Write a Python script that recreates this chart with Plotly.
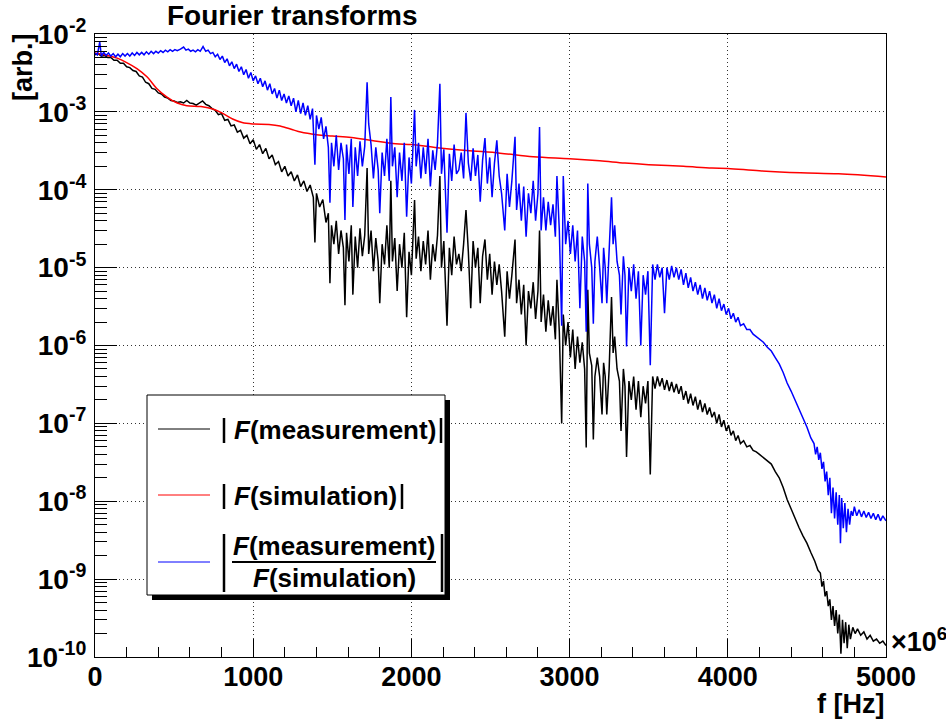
import plotly.graph_objects as go

# ---------------- data ----------------
# |F(measurement)|  (black)
meas_freq = [
    0, 20, 40, 60, 80, 100, 120, 140, 160, 180,
    200, 220, 240, 260, 280, 300, 320, 340, 360, 380,
    400, 420, 440, 460, 480, 500, 520, 540, 560, 580,
    600, 620, 640, 660, 680, 700, 720, 740, 760, 780,
    800, 820, 840, 860, 880, 900, 920, 940, 960, 980,
    1000, 1020, 1040, 1060, 1080, 1100, 1120, 1140, 1160, 1180,
    1200, 1220, 1240, 1260, 1280, 1300, 1320, 1340, 1360, 1380,
    1390, 1400, 1420, 1440, 1460, 1475, 1485, 1495, 1510, 1525,
    1540, 1555, 1570, 1580, 1590, 1605, 1620, 1630, 1645, 1660,
    1675, 1690, 1705, 1720, 1730, 1745, 1760, 1775, 1790, 1800,
    1815, 1830, 1845, 1860, 1870, 1880, 1895, 1910, 1925, 1940,
    1955, 1970, 1985, 2000, 2020, 2030, 2045, 2060, 2075, 2090,
    2105, 2120, 2135, 2150, 2165, 2180, 2190, 2205, 2225, 2240,
    2255, 2270, 2285, 2300, 2315, 2330, 2345, 2360, 2375, 2390,
    2405, 2420, 2435, 2450, 2465, 2480, 2495, 2510, 2525, 2540,
    2555, 2570, 2590, 2605, 2620, 2635, 2655, 2665, 2680, 2695,
    2710, 2725, 2740, 2755, 2770, 2785, 2800, 2810, 2820, 2835,
    2850, 2865, 2880, 2895, 2910, 2920, 2935, 2950, 2960, 2975,
    2990, 3005, 3020, 3035, 3050, 3065, 3080, 3095, 3105, 3115,
    3125, 3140, 3150, 3160, 3175, 3190, 3205, 3215, 3225, 3235,
    3250, 3265, 3275, 3285, 3300, 3315, 3325, 3340, 3350, 3360,
    3375, 3390, 3405, 3420, 3435, 3450, 3465, 3480, 3495, 3510,
    3525, 3540, 3555, 3570, 3585, 3600, 3615, 3630, 3645, 3660,
    3675, 3690, 3705, 3720, 3735, 3750, 3765, 3780, 3795, 3810,
    3825, 3840, 3855, 3870, 3885, 3900, 3915, 3930, 3945, 3960,
    3975, 3990, 4005, 4020, 4035, 4050, 4065, 4080, 4100, 4120,
    4140, 4160, 4180, 4200, 4225, 4250, 4275, 4300, 4325, 4350,
    4375, 4400, 4425, 4450, 4475, 4500, 4525, 4550, 4570, 4585,
    4595, 4605, 4615, 4625, 4635, 4645, 4655, 4665, 4675, 4685,
    4695, 4705, 4715, 4725, 4735, 4745, 4755, 4765, 4775, 4790,
    4805, 4820, 4840, 4860, 4880, 4900, 4920, 4940, 4960, 4980, 5000,
]
meas_amp = [
    5.4e-3, 5.6e-3, 5.2e-3, 5.3e-3, 5.0e-3, 5.0e-3, 4.6e-3, 4.6e-3, 4.2e-3, 4.2e-3,
    3.8e-3, 3.7e-3, 3.4e-3, 3.3e-3, 2.9e-3, 2.8e-3, 2.4e-3, 2.3e-3, 2.0e-3, 1.95e-3,
    1.75e-3, 1.7e-3, 1.55e-3, 1.5e-3, 1.4e-3, 1.38e-3, 1.32e-3, 1.35e-3, 1.3e-3, 1.4e-3,
    1.3e-3, 1.28e-3, 1.22e-3, 1.3e-3, 1.38e-3, 1.25e-3, 1.2e-3, 1.1e-3, 1.05e-3, 9.2e-4,
    9.5e-4, 7.8e-4, 8.0e-4, 6.6e-4, 6.8e-4, 5.5e-4, 5.8e-4, 4.6e-4, 5.0e-4, 3.9e-4,
    4.4e-4, 3.3e-4, 3.8e-4, 2.9e-4, 3.4e-4, 2.5e-4, 2.8e-4, 2.1e-4, 2.3e-4, 1.7e-4,
    2.0e-4, 1.5e-4, 1.7e-4, 1.3e-4, 1.55e-4, 1.1e-4, 1.3e-4, 9.5e-5, 1.15e-4, 8.0e-5,
    2.1e-5, 9.0e-5, 6.0e-5, 7.5e-5, 3.8e-5, 5.0e-5, 6.3e-6, 3.5e-5, 2.0e-5, 4.0e-5,
    1.5e-5, 3.0e-5, 1.8e-5, 3.3e-6, 2.8e-5, 1.2e-5, 3.5e-5, 4.5e-6, 2.5e-5, 1.0e-5,
    3.2e-5, 1.4e-5, 2.6e-5, 1.9e-4, 1.5e-5, 3.0e-5, 9.0e-6, 2.4e-5, 1.2e-5, 3.5e-6,
    2.0e-5, 1.1e-5, 3.5e-5, 1.0e-5, 1.3e-4, 1.2e-5, 2.4e-5, 5.0e-6, 2.0e-5, 1.0e-5,
    2.8e-5, 2.3e-6, 1.6e-5, 8.0e-6, 7.4e-5, 1.3e-5, 2.5e-5, 9.0e-6, 2.2e-5, 1.1e-5,
    3.0e-5, 7.0e-6, 2.0e-5, 1.2e-5, 2.6e-5, 1.5e-4, 1.0e-5, 2.2e-5, 1.8e-6, 1.8e-5,
    8.0e-6, 2.5e-5, 1.1e-5, 1.5e-5, 9.0e-6, 2.0e-5, 5.5e-5, 1.6e-5, 3.0e-6, 2.2e-5,
    1.0e-5, 1.8e-5, 3.5e-6, 1.4e-5, 2.3e-5, 7.0e-6, 1.5e-5, 4.5e-6, 1.2e-5, 6.0e-6,
    1.1e-5, 5.0e-6, 1.3e-6, 9.0e-6, 4.0e-6, 8.0e-6, 2.3e-5, 3.5e-6, 7.0e-6, 2.5e-6,
    6.0e-6, 1.0e-6, 5.0e-6, 3.0e-6, 6.5e-6, 2.2e-6, 5.0e-6, 3.0e-5, 2.0e-6, 4.5e-6,
    1.5e-6, 3.8e-6, 1.8e-6, 3.2e-6, 1.2e-6, 7.0e-6, 1.5e-6, 1.0e-7, 2.5e-6, 1.0e-6,
    2.0e-6, 7.0e-7, 1.6e-6, 5.0e-7, 1.3e-6, 6.0e-7, 1.1e-6, 5.0e-7, 4.9e-8, 5.2e-6,
    8.0e-7, 5.5e-7, 6.2e-8, 4.0e-7, 7.0e-7, 4.0e-7, 1.3e-7, 6.0e-7, 4.0e-7, 1.3e-7,
    5.0e-7, 4.2e-6, 8.0e-7, 1.3e-6, 5.0e-7, 3.5e-7, 8.0e-8, 5.0e-7, 3.0e-7, 3.7e-8,
    3.5e-7, 2.0e-7, 4.0e-7, 1.5e-7, 3.5e-7, 1.2e-7, 3.0e-7, 1.8e-7, 3.5e-7, 2.2e-8,
    4.0e-7, 2.8e-7, 4.0e-7, 3.0e-7, 3.8e-7, 2.7e-7, 3.6e-7, 2.6e-7, 3.4e-7, 2.5e-7,
    3.2e-7, 2.4e-7, 3.0e-7, 2.0e-7, 2.6e-7, 1.8e-7, 2.4e-7, 1.7e-7, 2.2e-7, 1.5e-7,
    2.0e-7, 1.4e-7, 1.8e-7, 1.3e-7, 1.6e-7, 1.2e-7, 1.4e-7, 1.0e-7, 1.3e-7, 9.0e-8,
    1.1e-7, 8.0e-8, 9.5e-8, 7.0e-8, 8.0e-8, 6.0e-8, 7.0e-8, 5.5e-8, 6.0e-8, 5.0e-8,
    5.2e-8, 4.5e-8, 4.3e-8, 4.0e-8, 3.6e-8, 3.3e-8, 3.0e-8, 2.4e-8, 2.0e-8, 1.5e-8,
    1.05e-8, 8.0e-9, 6.0e-9, 4.6e-9, 3.6e-9, 2.9e-9, 2.2e-9, 1.7e-9, 1.3e-9, 1.2e-9,
    8.0e-10, 9.5e-10, 6.0e-10, 7.0e-10, 4.5e-10, 5.5e-10, 3.0e-10, 4.5e-10, 2.5e-10, 4.0e-10,
    2.0e-10, 3.5e-10, 1.1e-10, 3.0e-10, 1.5e-10, 2.8e-10, 1.3e-10, 2.6e-10, 1.7e-10, 2.4e-10,
    2.0e-10, 2.3e-10, 1.9e-10, 2.1e-10, 1.7e-10, 1.9e-10, 1.6e-10, 1.7e-10, 1.5e-10, 1.6e-10, 1.4e-10,
]

# |F(simulation)|  (red)
sim_freq = [
    0, 80, 140, 200, 265, 330, 390, 455, 520, 580,
    670, 750, 810, 870, 930, 1000, 1100, 1170, 1250, 1300,
    1400, 1500, 1620, 1750, 1900, 2000, 2150, 2350, 2560, 2770,
    3000, 3190, 3350, 3500, 3720, 3900, 4000, 4200, 4460, 4700, 5000,
]
sim_amp = [
    5.7e-3, 5.3e-3, 4.9e-3, 4.3e-3, 3.6e-3, 2.8e-3, 2.0e-3, 1.55e-3, 1.3e-3, 1.2e-3,
    1.17e-3, 1.08e-3, 9.5e-4, 8.1e-4, 7.3e-4, 7.0e-4, 6.9e-4, 6.6e-4, 5.9e-4, 5.5e-4,
    5.1e-4, 4.9e-4, 4.7e-4, 4.3e-4, 3.9e-4, 3.8e-4, 3.5e-4, 3.2e-4, 2.95e-4, 2.65e-4,
    2.5e-4, 2.35e-4, 2.2e-4, 2.1e-4, 2.0e-4, 1.9e-4, 1.88e-4, 1.75e-4, 1.65e-4, 1.6e-4, 1.46e-4,
]

# |F(measurement)/F(simulation)|  (blue)
ratio_freq = [
    0, 15, 30, 40, 55, 70, 85, 100, 115, 130,
    145, 160, 175, 190, 205, 220, 235, 250, 265, 280,
    295, 310, 325, 340, 355, 370, 385, 400, 415, 430,
    445, 460, 475, 490, 505, 520, 540, 560, 575, 590,
    605, 620, 635, 650, 665, 683, 700, 715, 730, 745,
    760, 775, 790, 805, 820, 835, 850, 865, 880, 895,
    910, 925, 940, 955, 970, 985, 1000, 1015, 1030, 1045,
    1060, 1075, 1090, 1105, 1120, 1135, 1150, 1165, 1180, 1195,
    1210, 1225, 1240, 1255, 1270, 1285, 1300, 1315, 1330, 1345,
    1360, 1375, 1390, 1400, 1415, 1430, 1445, 1460, 1475, 1485,
    1495, 1510, 1525, 1540, 1555, 1570, 1580, 1590, 1605, 1620,
    1630, 1645, 1660, 1675, 1690, 1705, 1720, 1730, 1745, 1760,
    1775, 1790, 1800, 1815, 1830, 1845, 1860, 1870, 1880, 1895,
    1910, 1925, 1940, 1955, 1970, 1985, 2000, 2020, 2030, 2045,
    2060, 2075, 2090, 2105, 2120, 2135, 2150, 2165, 2180, 2190,
    2205, 2225, 2240, 2255, 2270, 2285, 2300, 2315, 2330, 2345,
    2360, 2375, 2390, 2405, 2420, 2435, 2450, 2465, 2480, 2495,
    2510, 2525, 2540, 2555, 2570, 2590, 2605, 2620, 2635, 2655,
    2665, 2680, 2695, 2710, 2725, 2740, 2755, 2770, 2785, 2800,
    2810, 2820, 2835, 2850, 2865, 2880, 2895, 2910, 2920, 2935,
    2950, 2960, 2975, 2990, 3005, 3020, 3035, 3050, 3065, 3080,
    3095, 3105, 3115, 3125, 3140, 3150, 3160, 3175, 3190, 3205,
    3215, 3225, 3235, 3250, 3265, 3275, 3285, 3300, 3315, 3325,
    3340, 3350, 3360, 3375, 3390, 3405, 3420, 3435, 3450, 3465,
    3480, 3495, 3510, 3525, 3540, 3555, 3570, 3585, 3600, 3615,
    3630, 3645, 3660, 3675, 3690, 3705, 3720, 3735, 3750, 3765,
    3780, 3795, 3810, 3825, 3840, 3855, 3870, 3885, 3900, 3915,
    3930, 3945, 3960, 3975, 3990, 4005, 4020, 4035, 4050, 4065,
    4080, 4100, 4120, 4140, 4160, 4180, 4200, 4225, 4250, 4275,
    4300, 4325, 4350, 4375, 4400, 4425, 4450, 4475, 4500, 4525,
    4545, 4555, 4565, 4575, 4585, 4595, 4605, 4615, 4625, 4635,
    4645, 4655, 4665, 4675, 4685, 4695, 4705, 4712, 4720, 4730,
    4740, 4750, 4760, 4770, 4780, 4790, 4800, 4815, 4830, 4845,
    4860, 4875, 4890, 4905, 4920, 4935, 4950, 4965, 4980, 5000,
]
ratio_amp = [
    5.7e-3, 5.4e-3, 7.9e-3, 5.2e-3, 5.8e-3, 5.3e-3, 5.7e-3, 5.2e-3, 5.6e-3, 5.1e-3,
    5.5e-3, 5.1e-3, 5.6e-3, 5.2e-3, 5.6e-3, 5.2e-3, 5.7e-3, 5.3e-3, 5.8e-3, 5.4e-3,
    5.8e-3, 5.4e-3, 5.9e-3, 5.5e-3, 6.0e-3, 5.6e-3, 6.0e-3, 5.7e-3, 6.1e-3, 5.8e-3,
    6.2e-3, 5.9e-3, 6.3e-3, 6.0e-3, 6.3e-3, 6.1e-3, 6.4e-3, 6.8e-3, 6.2e-3, 6.4e-3,
    6.0e-3, 6.2e-3, 5.9e-3, 6.3e-3, 6.0e-3, 6.9e-3, 6.0e-3, 6.2e-3, 5.6e-3, 5.8e-3,
    5.1e-3, 5.5e-3, 4.7e-3, 5.2e-3, 4.3e-3, 4.8e-3, 3.9e-3, 4.4e-3, 3.6e-3, 4.1e-3,
    3.3e-3, 3.8e-3, 3.0e-3, 3.5e-3, 2.7e-3, 3.2e-3, 2.5e-3, 2.9e-3, 2.3e-3, 2.7e-3,
    2.1e-3, 2.5e-3, 1.9e-3, 2.3e-3, 1.7e-3, 2.0e-3, 1.5e-3, 1.9e-3, 1.4e-3, 1.7e-3,
    1.3e-3, 1.6e-3, 1.2e-3, 1.5e-3, 1.0e-3, 1.4e-3, 9.5e-4, 1.3e-3, 9.0e-4, 1.2e-3,
    8.0e-4, 1.1e-3, 2.1e-4, 9.0e-4, 6.0e-4, 8.5e-4, 4.5e-4, 6.5e-4, 3.5e-4, 6.8e-5,
    4.0e-4, 2.0e-4, 5.0e-4, 1.8e-4, 4.0e-4, 2.5e-4, 4.1e-5, 3.8e-4, 1.6e-4, 4.5e-4,
    6.0e-5, 3.5e-4, 1.5e-4, 4.2e-4, 2.0e-4, 3.6e-4, 2.4e-3, 7.0e-4, 3.8e-4, 1.4e-4,
    3.5e-4, 1.8e-4, 5.0e-5, 3.0e-4, 1.5e-4, 4.5e-4, 1.3e-4, 1.55e-3, 2.0e-4, 3.5e-4,
    8.0e-5, 3.0e-4, 1.3e-4, 4.0e-4, 4.5e-5, 2.6e-4, 1.2e-4, 1.06e-3, 2.0e-4, 4.0e-4,
    1.4e-4, 3.5e-4, 1.6e-4, 4.5e-4, 1.1e-4, 3.2e-4, 1.8e-4, 4.0e-4, 2.3e-3, 1.6e-4,
    3.3e-4, 2.8e-5, 2.9e-4, 1.3e-4, 3.8e-4, 1.6e-4, 1.8e-4, 3.0e-4, 1.4e-4, 9.7e-4,
    2.2e-4, 1.3e-4, 3.4e-4, 1.5e-4, 2.8e-4, 7.0e-5, 2.4e-4, 4.6e-4, 1.2e-4, 2.6e-4,
    8.0e-5, 2.2e-4, 4.3e-4, 1.5e-4, 9.0e-5, 3.0e-5, 1.6e-4, 6.0e-5, 1.3e-4, 4.8e-4,
    5.5e-5, 1.2e-4, 4.0e-5, 1.1e-4, 2.5e-5, 9.0e-5, 5.0e-5, 1.3e-4, 4.0e-5, 9.0e-5,
    6.4e-4, 3.0e-5, 8.0e-5, 3.0e-5, 7.0e-5, 3.5e-5, 6.5e-5, 2.5e-5, 1.5e-4, 3.0e-5,
    1.8e-6, 1.5e-4, 2.0e-5, 4.0e-5, 1.5e-5, 3.5e-5, 1.2e-5, 3.0e-5, 3.0e-6, 2.5e-5,
    1.2e-5, 1.5e-6, 1.2e-4, 2.0e-5, 1.0e-5, 1.9e-6, 1.2e-5, 2.5e-5, 1.0e-5, 3.5e-6,
    1.8e-5, 1.0e-5, 3.5e-6, 1.5e-5, 8.0e-5, 2.0e-5, 3.5e-5, 1.2e-5, 8.0e-6, 2.5e-6,
    1.4e-5, 8.0e-6, 9.7e-7, 1.0e-5, 5.0e-6, 1.1e-5, 4.0e-6, 9.0e-6, 1.0e-6, 8.0e-6,
    4.5e-6, 9.0e-6, 5.6e-7, 1.1e-5, 7.0e-6, 1.1e-5, 7.5e-6, 1.0e-5, 2.6e-6, 1.0e-5,
    7.0e-6, 1.05e-5, 7.5e-6, 1.0e-5, 7.0e-6, 9.5e-6, 6.0e-6, 8.5e-6, 5.5e-6, 7.5e-6,
    5.0e-6, 6.5e-6, 4.5e-6, 6.0e-6, 4.0e-6, 5.5e-6, 3.8e-6, 5.0e-6, 3.5e-6, 4.5e-6,
    3.0e-6, 4.0e-6, 2.8e-6, 3.4e-6, 2.5e-6, 3.0e-6, 2.2e-6, 2.6e-6, 2.0e-6, 2.3e-6,
    1.8e-6, 1.9e-6, 1.6e-6, 1.6e-6, 1.4e-6, 1.3e-6, 1.2e-6, 1.1e-6, 9.5e-7, 8.5e-7,
    7.0e-7, 5.8e-7, 4.5e-7, 3.3e-7, 2.6e-7, 2.0e-7, 1.5e-7, 1.15e-7, 9.0e-8, 6.5e-8,
    5.5e-8, 4.0e-8, 5.0e-8, 3.4e-8, 4.2e-8, 2.6e-8, 3.2e-8, 1.8e-8, 2.4e-8, 1.2e-8,
    2.0e-8, 7.0e-9, 1.5e-8, 6.0e-9, 1.3e-8, 5.0e-9, 1.2e-8, 2.9e-9, 1.1e-8, 4.5e-9,
    9.5e-9, 4.0e-9, 8.0e-9, 5.0e-9, 7.5e-9, 6.5e-9, 8.5e-9, 6.5e-9, 7.8e-9, 6.3e-9,
    7.5e-9, 6.2e-9, 7.2e-9, 6.0e-9, 7.0e-9, 5.8e-9, 6.8e-9, 5.6e-9, 6.5e-9, 5.6e-9,
]

# axis ticks / labels
x_tick_vals = [0, 1000, 2000, 3000, 4000, 5000]
x_tick_text = ["0", "1000", "2000", "3000", "4000", "5000"]
y_tick_vals = [1e-10, 1e-9, 1e-8, 1e-7, 1e-6, 1e-5, 1e-4, 1e-3, 1e-2]
y_tick_text = ["10<sup>-10</sup>", "10<sup>-9</sup>", "10<sup>-8</sup>", "10<sup>-7</sup>",
               "10<sup>-6</sup>", "10<sup>-5</sup>", "10<sup>-4</sup>", "10<sup>-3</sup>",
               "10<sup>-2</sup>"]

assert len(meas_freq) == len(meas_amp)
assert len(sim_freq) == len(sim_amp)
assert len(ratio_freq) == len(ratio_amp)

# ---------------- layout geometry (pixels) ----------------
W, H = 946, 720
PL, PR, PT, PB = 95, 886, 34, 657
FONT = "Liberation Sans, Arial, sans-serif"


def px(x):
    return (x - PL) / (PR - PL)


def py(y):
    return (PB - y) / (PB - PT)


fig = go.Figure()
fig.add_trace(go.Scatter(x=meas_freq, y=meas_amp, mode="lines",
                         line=dict(color="#000000", width=1.5), showlegend=False))
fig.add_trace(go.Scatter(x=sim_freq, y=sim_amp, mode="lines",
                         line=dict(color="#ff0000", width=1.5, shape="spline"), showlegend=False))
fig.add_trace(go.Scatter(x=ratio_freq, y=ratio_amp, mode="lines",
                         line=dict(color="#0000ff", width=1.5), showlegend=False))

y_minor = [m * 10.0 ** e for e in range(-10, -2) for m in range(2, 10)]
x_minor = [v for v in range(200, 5000, 200) if v % 1000 != 0]

GRID = dict(showgrid=True, gridcolor="#333333", griddash="1px,3px", gridwidth=1)

fig.update_xaxes(
    range=[0, 5000], tickmode="array", tickvals=x_tick_vals, ticktext=x_tick_text,
    ticks="inside", ticklen=18, tickwidth=1, tickcolor="black",
    minor=dict(tickmode="array", tickvals=x_minor, ticks="inside", ticklen=10,
               tickwidth=1, tickcolor="black", showgrid=False),
    showline=True, linecolor="black", linewidth=1, mirror=True,
    zeroline=False, automargin=False, ticklabelstandoff=-4,
    tickfont=dict(family=FONT, size=27, color="black", weight="bold"),
    **GRID,
)
fig.update_yaxes(
    type="log", range=[-10, -2], tickmode="array", tickvals=y_tick_vals, ticktext=y_tick_text,
    ticks="inside", ticklen=22, tickwidth=1, tickcolor="black",
    minor=dict(tickmode="array", tickvals=y_minor, ticks="inside", ticklen=12,
               tickwidth=1, tickcolor="black", showgrid=False),
    showline=True, linecolor="black", linewidth=1, mirror=True,
    zeroline=False, automargin=False, ticklabelstandoff=2,
    tickfont=dict(family=FONT, size=28, color="black", weight="bold"),
    **GRID,
)

# ---------------- legend drawn as a ROOT-style box ----------------
LX0, LX1, LY0, LY1 = 147, 445, 395, 595
shapes = [
    dict(type="rect", xref="paper", yref="paper", x0=px(LX0 + 5), x1=px(LX1 + 5),
         y0=py(LY1 + 5), y1=py(LY0 + 5), fillcolor="black", line=dict(width=0)),
    dict(type="rect", xref="paper", yref="paper", x0=px(LX0), x1=px(LX1),
         y0=py(LY1), y1=py(LY0), fillcolor="white", line=dict(color="black", width=1)),
]
entries = [("#000000", 429), ("#ff0000", 495), ("#0000ff", 562)]
for col, yy in entries:
    shapes.append(dict(type="line", xref="paper", yref="paper", x0=px(158), x1=px(210),
                       y0=py(yy), y1=py(yy), line=dict(color=col, width=1)))
# |...| bars
bars = [(224, 418, 443), (441, 418, 443), (224, 484, 509), (402, 484, 509),
        (224, 534, 592), (442, 534, 592)]
for bx, b0, b1 in bars:
    shapes.append(dict(type="line", xref="paper", yref="paper", x0=px(bx), x1=px(bx),
                       y0=py(b0), y1=py(b1), line=dict(color="black", width=2.5)))
# fraction line
shapes.append(dict(type="line", xref="paper", yref="paper", x0=px(232), x1=px(436),
                   y0=py(562), y1=py(562), line=dict(color="black", width=2)))

LF = dict(family=FONT, size=26, color="black", weight="bold")
annotations = [
    dict(text="<i>F</i>(measurement)", xref="paper", yref="paper", x=px(232), y=py(430),
         xanchor="left", yanchor="middle", showarrow=False, font=LF),
    dict(text="<i>F</i>(simulation)", xref="paper", yref="paper", x=px(232), y=py(496),
         xanchor="left", yanchor="middle", showarrow=False, font=LF),
    dict(text="<i>F</i>(measurement)", xref="paper", yref="paper", x=px(334), y=py(546),
         xanchor="center", yanchor="middle", showarrow=False, font=LF),
    dict(text="<i>F</i>(simulation)", xref="paper", yref="paper", x=px(334), y=py(578),
         xanchor="center", yanchor="middle", showarrow=False, font=LF),
    # axis titles
    dict(text="[arb.]", xref="paper", yref="paper", x=px(23), y=py(67), textangle=-90,
         xanchor="center", yanchor="middle", showarrow=False,
         font=dict(family=FONT, size=27, color="black", weight="bold")),
    dict(text="f [Hz]", xref="paper", yref="paper", x=1.0, y=py(704),
         xanchor="right", yanchor="middle", showarrow=False,
         font=dict(family=FONT, size=27, color="black", weight="bold")),
    dict(text="\u00d710<sup>6</sup>", xref="paper", yref="paper", x=px(889), y=py(659),
         xanchor="left", yanchor="bottom", showarrow=False,
         font=dict(family=FONT, size=27, color="black", weight="bold")),
]

fig.update_layout(
    width=W, height=H,
    margin=dict(l=PL, r=W - PR, t=PT, b=H - PB, pad=0),
    paper_bgcolor="white", plot_bgcolor="white",
    title=dict(text="Fourier transforms", xref="paper", x=px(167), xanchor="left",
               yref="container", y=1 - 15 / H, yanchor="middle",
               font=dict(family=FONT, size=28, color="black", weight="bold")),
    shapes=shapes, annotations=annotations, showlegend=False,
)

fig.write_html("out.html")
